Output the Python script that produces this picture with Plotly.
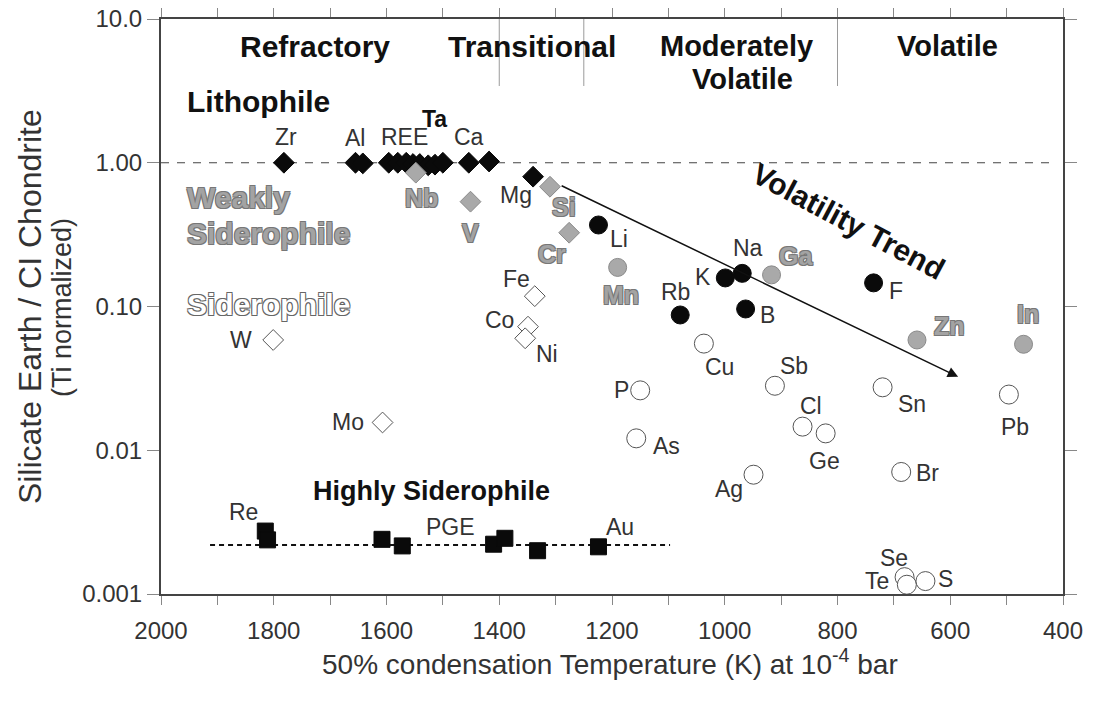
import numpy as np
import plotly.graph_objects as go

FONT = "Liberation Sans"

# ---- data: 50% condensation temperature (K) and silicate Earth / CI (Ti normalized)
# refractory lithophile elements (filled black diamonds)
lith_ref_el = ["Zr", "Al", "", "", "REE", "", "", "", "", "Ta", "", "Ca", "", "Mg"]
lith_ref_T = [1782, 1655, 1642, 1596, 1580, 1565, 1553, 1541, 1526, 1514, 1500, 1454, 1418, 1340]
lith_ref_v = [1.00, 1.00, 0.99, 1.00, 1.00, 1.00, 0.98, 0.98, 0.96, 0.97, 1.00, 1.00, 1.02, 0.80]

# weakly siderophile, refractory/transitional (grey diamonds)
wsid_ref_el = ["Nb", "V", "Si", "Cr"]
wsid_ref_T = [1548, 1451, 1310, 1276]
wsid_ref_v = [0.853, 0.536, 0.681, 0.326]

# siderophile (open diamonds)
sid_el = ["W", "Mo", "Fe", "Co", "Ni"]
sid_T = [1801, 1607, 1337, 1349, 1354]
sid_v = [0.0585, 0.0156, 0.118, 0.0724, 0.0601]

# volatile lithophile (filled black circles)
lith_vol_el = ["Li", "Rb", "K", "Na", "B", "F"]
lith_vol_T = [1224, 1079, 999, 969, 963, 736]
lith_vol_v = [0.369, 0.0873, 0.158, 0.170, 0.0961, 0.146]

# volatile weakly siderophile (grey circles)
wsid_vol_el = ["Mn", "Ga", "Zn", "In"]
wsid_vol_T = [1190, 917, 659, 470]
wsid_vol_v = [0.187, 0.166, 0.0585, 0.0546]

# volatile siderophile / chalcophile (open circles)
chal_el = ["Cu", "P", "Sb", "Sn", "Pb", "Cl", "Ge", "As", "Ag", "Br", "Se", "Te", "S"]
chal_T = [1037, 1150, 911, 720, 496, 862, 821, 1157, 949, 687, 681, 677, 644]
chal_v = [0.0552, 0.0261, 0.0281, 0.0274, 0.0244, 0.0146, 0.0131, 0.0121,
          0.00676, 0.00706, 0.00131, 0.00116, 0.00123]

# highly siderophile (black squares)
hsid_el = ["Re", "", "", "PGE", "", "", "", "Au"]
hsid_T = [1815, 1811, 1608, 1572, 1410, 1390, 1332, 1224]
hsid_v = [0.00274, 0.00238, 0.00240, 0.00216, 0.00222, 0.00244, 0.00200, 0.00213]

# reference levels and the volatility trend
lith_level_T = [2000, 418]
lith_level_v = [1.0, 1.0]
hsid_level_T = [1913, 1097]
hsid_level_v = [0.00219, 0.00219]
trend_T = [1292, 586]
trend_v = [0.70, 0.0324]

# volatility classes along the top
class_bounds_T = [1400, 1250, 800]

# axis ticks
x_tickvals = [2000, 1900, 1800, 1700, 1600, 1500, 1400, 1300, 1200, 1100,
              1000, 900, 800, 700, 600, 500, 400]
x_ticktext = ["2000", "", "1800", "", "1600", "", "1400", "", "1200", "",
              "1000", "", "800", "", "600", "", "400"]
y_tickvals = [10, 1, 0.1, 0.01, 0.001]
y_ticktext = ["10.0", "1.00", "0.10", "0.01", "0.001"]

# label offsets (pixels) from each marker
label_shift = {
    "Zr": (2, 26), "Al": (0, 25), "REE": (7, 26), "Ta": (0, 46), "Ca": (0, 26),
    "Mg": (-17, -18),
    "Nb": (6, -25), "V": (0, -31), "Si": (14, -20), "Cr": (-17, -21),
    "W": (-32, 0), "Mo": (-35, 0), "Fe": (-18, 17), "Co": (-29, 7), "Ni": (22, -16),
    "Li": (21, -14), "Rb": (-5, 23), "K": (-22, 1), "Na": (6, 25), "B": (22, -6),
    "F": (22, -8),
    "Mn": (3, -28), "Ga": (24, 19), "Zn": (33, 14), "In": (4, 30),
    "Cu": (16, -23), "P": (-19, 0), "Sb": (19, 20), "Sn": (29, -17), "Pb": (6, -32),
    "Cl": (8, 21), "Ge": (-1, -28), "As": (30, -8), "Ag": (-25, -14), "Br": (26, -1),
    "Se": (-11, 19), "Te": (-30, 4), "S": (20, 2),
    "Re": (-22, 19), "PGE": (48, 19), "Au": (22, 20),
}

DARK = "#333333"
GREY_FILL = "#a9a9a9"
GREY_LINE = "#8a8a8a"
GREY_TEXT = "#a3a3a3"
OUTLINE = "-1px -1px 0 #777, 1px -1px 0 #777, -1px 1px 0 #777, 1px 1px 0 #777"
HOLLOW = "-1px -1px 0 #666, 1px -1px 0 #666, -1px 1px 0 #666, 1px 1px 0 #666"

fig = go.Figure()

# reference lines
fig.add_trace(go.Scatter(x=lith_level_T, y=lith_level_v, mode="lines",
                         line=dict(color="#444", width=1.2, dash="8px,8px"),
                         hoverinfo="skip", showlegend=False))
fig.add_trace(go.Scatter(x=hsid_level_T, y=hsid_level_v, mode="lines",
                         line=dict(color="#111", width=2, dash="5px,4px"),
                         hoverinfo="skip", showlegend=False))


def add_points(T, v, symbol, size, fill, line_color, line_width):
    fig.add_trace(go.Scatter(
        x=T, y=v, mode="markers", showlegend=False,
        marker=dict(symbol=symbol, size=size, color=fill,
                    line=dict(color=line_color, width=line_width))))


add_points(lith_ref_T, lith_ref_v, "diamond", 16, "#0a0a0a", "#0a0a0a", 1)
add_points(wsid_ref_T, wsid_ref_v, "diamond", 16, GREY_FILL, GREY_LINE, 1)
add_points(sid_T, sid_v, "diamond", 16, "white", "#555", 1)
add_points(lith_vol_T, lith_vol_v, "circle", 18, "#0a0a0a", "#0a0a0a", 1)
add_points(wsid_vol_T, wsid_vol_v, "circle", 18, GREY_FILL, GREY_LINE, 1)
add_points(chal_T, chal_v, "circle", 19, "white", "#555", 1)
add_points(hsid_T, hsid_v, "square", 16, "#0a0a0a", "#0a0a0a", 1)

annotations = []


def add_labels(names, T, v, grey=False):
    for name, t, val in zip(names, T, v):
        if not name:
            continue
        dx, dy = label_shift[name]
        if grey:
            font = dict(family=FONT, size=25, color=GREY_TEXT, shadow=OUTLINE)
            text = "<b>%s</b>" % name
        elif name == "Ta":
            font = dict(family=FONT, size=23, color="#111")
            text = "<b>Ta</b>"
        else:
            font = dict(family=FONT, size=23, color=DARK)
            text = name
        annotations.append(dict(x=t, y=np.log10(val), xref="x", yref="y", text=text,
                                showarrow=False, xshift=dx, yshift=dy, font=font,
                                xanchor="center", yanchor="middle"))


add_labels(lith_ref_el, lith_ref_T, lith_ref_v)
add_labels(wsid_ref_el, wsid_ref_T, wsid_ref_v, grey=True)
add_labels(sid_el, sid_T, sid_v)
add_labels(lith_vol_el, lith_vol_T, lith_vol_v)
add_labels(wsid_vol_el, wsid_vol_T, wsid_vol_v, grey=True)
add_labels(chal_el, chal_T, chal_v)
add_labels(hsid_el, hsid_T, hsid_v)

# volatility trend arrow
annotations.append(dict(x=trend_T[1], y=np.log10(trend_v[1]), ax=trend_T[0],
                        ay=np.log10(trend_v[0]), xref="x", yref="y", axref="x", ayref="y",
                        text="", showarrow=True, arrowhead=2, arrowsize=1.4,
                        arrowwidth=1.5, arrowcolor="#111"))


def paper_text(text, x, y, size, color="#111", anchor="center", angle=0, shadow=None):
    font = dict(family=FONT, size=size, color=color)
    if shadow:
        font["shadow"] = shadow
    annotations.append(dict(x=x, y=y, xref="paper", yref="paper", text=text,
                            showarrow=False, xanchor=anchor, yanchor="middle",
                            textangle=angle, font=font))


# volatility classes
paper_text("<b>Refractory</b>", 0.1707, 0.953, 30)
paper_text("<b>Transitional</b>", 0.4113, 0.953, 30)
paper_text("<b>Moderately</b>", 0.638, 0.953, 29)
paper_text("<b>Volatile</b>", 0.645, 0.895, 29)
paper_text("<b>Volatile</b>", 0.8725, 0.953, 29)

# geochemical groups
paper_text("<b>Lithophile</b>", 0.0266, 0.857, 30, anchor="left")
paper_text("<b>Weakly</b>", 0.0266, 0.6887, 30, color=GREY_TEXT, anchor="left", shadow=OUTLINE)
paper_text("<b>Siderophile</b>", 0.0266, 0.6278, 30, color=GREY_TEXT, anchor="left",
           shadow=OUTLINE)
paper_text("<b>Siderophile</b>", 0.0266, 0.504, 30, color="white", anchor="left",
           shadow=HOLLOW)
paper_text("<b>Highly Siderophile</b>", 0.3004, 0.179, 27)
paper_text("<b>Volatility Trend</b>", 0.7627, 0.647, 30, angle=28)

# axis titles
paper_text("Silicate Earth / CI Chondrite", -0.1452, 0.499, 32, color=DARK, angle=-90)
paper_text("(Ti normalized)", -0.1098, 0.499, 27, color=DARK, angle=-90)
paper_text("50% condensation Temperature (K) at 10<sup>-4</sup> bar", 0.4978, -0.118, 28,
           color=DARK)

# class boundaries hanging from the top axis
shapes = [dict(type="line", xref="x", yref="paper", x0=t, x1=t, y0=0.8835, y1=1,
               line=dict(color="#9a9a9a", width=1)) for t in class_bounds_T]

fig.update_layout(
    width=1103, height=705,
    margin=dict(l=161, r=40, t=19, b=111, autoexpand=False),
    paper_bgcolor="white", plot_bgcolor="white",
    font=dict(family=FONT, color=DARK),
    annotations=annotations, shapes=shapes,
    showlegend=False,
)
fig.update_xaxes(range=[2000, 400], tickvals=x_tickvals, ticktext=x_ticktext,
                 ticks="outside", ticklen=9, tickcolor="#888", tickwidth=1,
                 ticklabelstandoff=5, automargin=False,
                 showline=True, linecolor="#444", linewidth=2, mirror="allticks",
                 showgrid=False, zeroline=False,
                 tickfont=dict(family=FONT, size=24, color=DARK))
fig.update_yaxes(type="log", range=[-3, 1], tickvals=y_tickvals, ticktext=y_ticktext,
                 ticks="outside", ticklen=12, tickcolor="#888", tickwidth=1,
                 automargin=False,
                 showline=True, linecolor="#444", linewidth=2, mirror="allticks",
                 showgrid=False, zeroline=False,
                 tickfont=dict(family=FONT, size=24, color=DARK))

fig.write_html("out.html")
